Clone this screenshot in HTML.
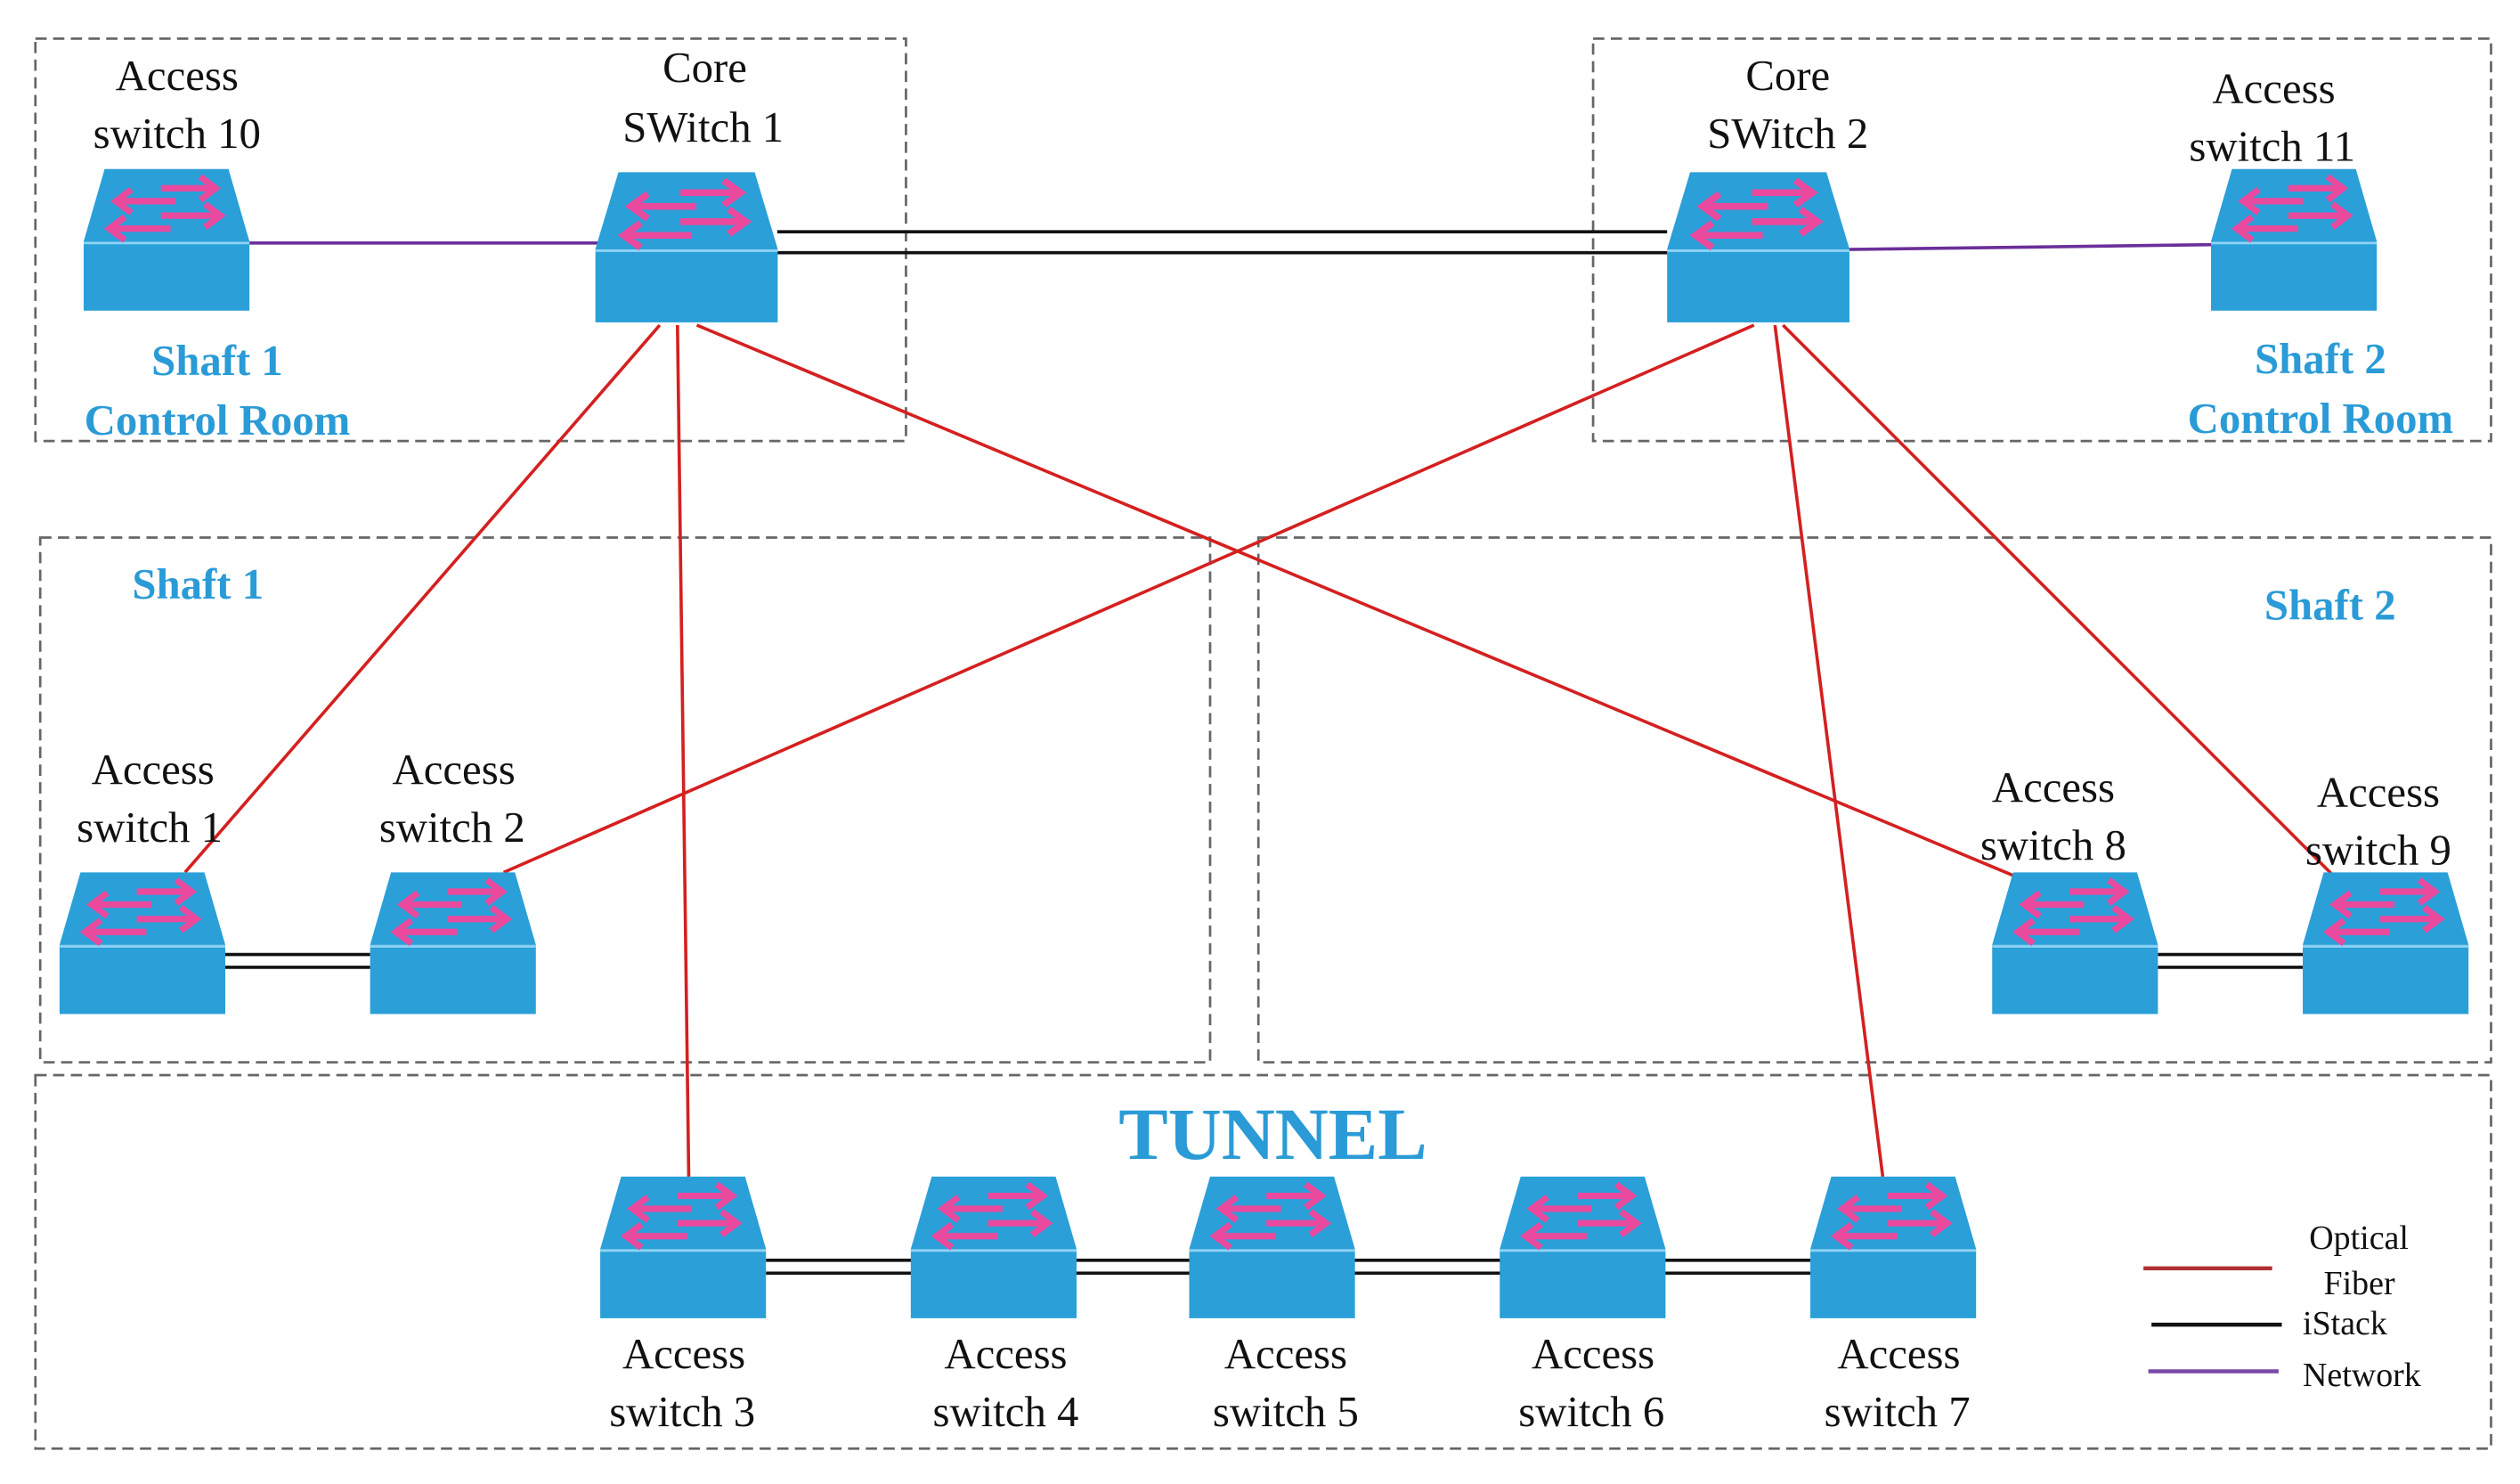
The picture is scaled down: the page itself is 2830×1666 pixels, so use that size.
<!DOCTYPE html>
<html><head><meta charset="utf-8"><style>
html,body{margin:0;padding:0;background:#fff}
svg{display:block}
text{font-family:"Liberation Serif",serif}
.lb{font-size:27px;fill:#111;text-anchor:middle}
.bl{font-size:27px;fill:#2a9bd6;font-weight:bold;text-anchor:middle}
</style></head><body>
<svg width="2830" height="1666" viewBox="0 0 1566 922" preserveAspectRatio="none" xmlns="http://www.w3.org/2000/svg">
<defs>
<g id="sw">
<polygon points="13,0 90,0 103,45 0,45" fill="#2a9fd8"/>
<rect x="0" y="45" width="103" height="43" fill="#2a9fd8"/>
<line x1="0" y1="46" x2="103" y2="46" stroke="#8fd3f3" stroke-width="1.5"/>
<g stroke="#ea4a9e" stroke-width="4" fill="none" stroke-linecap="square">
<path d="M50,12 H80 M74,6 L82,12 L74,18"/>
<path d="M50,29 H83 M77,23 L85,29 L77,35"/>
<path d="M55,20 H22 M28,14 L20,20 L28,26"/>
<path d="M52,37 H18 M24,31 L16,37 L24,43"/>
</g>
</g>
</defs>
<g fill="none" stroke="#666" stroke-width="1.5" stroke-dasharray="7,4">
<rect x="22" y="24" width="541" height="250"/>
<rect x="990" y="24" width="558" height="250"/>
<rect x="25" y="334" width="727" height="326"/>
<rect x="782" y="334" width="766" height="326"/>
<rect x="22" y="668" width="1526" height="232"/>
</g>
<g stroke="#6b2f9a" stroke-width="2">
<line x1="155" y1="151" x2="372" y2="151"/>
<line x1="1148" y1="155" x2="1374" y2="152"/>
</g>
<g stroke="#111" stroke-width="2">
<line x1="483" y1="144" x2="1036" y2="144"/>
<line x1="483" y1="157" x2="1036" y2="157"/>
<line x1="140" y1="593" x2="230" y2="593"/><line x1="140" y1="601" x2="230" y2="601"/>
<line x1="1341" y1="593" x2="1431" y2="593"/><line x1="1341" y1="601" x2="1431" y2="601"/>
<line x1="476" y1="783" x2="1125" y2="783"/><line x1="476" y1="791" x2="1125" y2="791"/>
</g>
<g stroke="#d42020" stroke-width="2">
<line x1="410" y1="202" x2="115" y2="542"/>
<line x1="421" y1="202" x2="428" y2="731"/>
<line x1="433" y1="202" x2="1256" y2="546"/>
<line x1="1090" y1="202" x2="313" y2="542"/>
<line x1="1103" y1="202" x2="1170" y2="731"/>
<line x1="1108" y1="202" x2="1450" y2="544"/>
</g>
<use href="#sw" transform="translate(52,105)"/>
<use href="#sw" transform="translate(370,107) scale(1.1,1.06)"/>
<use href="#sw" transform="translate(1036,107) scale(1.1,1.06)"/>
<use href="#sw" transform="translate(1374,105)"/>
<use href="#sw" transform="translate(37,542)"/>
<use href="#sw" transform="translate(230,542)"/>
<use href="#sw" transform="translate(1238,542)"/>
<use href="#sw" transform="translate(1431,542)"/>
<use href="#sw" transform="translate(373,731)"/>
<use href="#sw" transform="translate(566,731)"/>
<use href="#sw" transform="translate(739,731)"/>
<use href="#sw" transform="translate(932,731)"/>
<use href="#sw" transform="translate(1125,731)"/>
<g class="lb">
<text x="110" y="56">Access</text><text x="110" y="92">switch 10</text>
<text x="438" y="51">Core</text><text x="437" y="88">SWitch 1</text>
<text x="1111" y="56">Core</text><text x="1111" y="92">SWitch 2</text>
<text x="1413" y="64">Access</text><text x="1412" y="100">switch 11</text>
<text x="95" y="487">Access</text><text x="93" y="523">switch 1</text>
<text x="282" y="487">Access</text><text x="281" y="523">switch 2</text>
<text x="1276" y="498">Access</text><text x="1276" y="534">switch 8</text>
<text x="1478" y="501">Access</text><text x="1478" y="537">switch 9</text>
<text x="425" y="850">Access</text><text x="424" y="886">switch 3</text>
<text x="625" y="850">Access</text><text x="625" y="886">switch 4</text>
<text x="799" y="850">Access</text><text x="799" y="886">switch 5</text>
<text x="990" y="850">Access</text><text x="989" y="886">switch 6</text>
<text x="1180" y="850">Access</text><text x="1179" y="886">switch 7</text>
</g>
<g class="bl">
<text x="135" y="233">Shaft 1</text><text x="135" y="270">Control Room</text>
<text x="1442" y="232">Shaft 2</text><text x="1442" y="269">Control Room</text>
<text x="123" y="372">Shaft 1</text>
<text x="1448" y="385">Shaft 2</text>
<text x="791" y="720" style="font-size:46px">TUNNEL</text>
</g>
<line x1="1332" y1="788" x2="1412" y2="788" stroke="#b03030" stroke-width="2.5"/>
<line x1="1337" y1="823" x2="1418" y2="823" stroke="#111" stroke-width="2.5"/>
<line x1="1335" y1="852" x2="1416" y2="852" stroke="#7a4aa8" stroke-width="2.5"/>
<g style="font-size:21px;fill:#111">
<text x="1435" y="776">Optical</text>
<text x="1444" y="804">Fiber</text>
<text x="1431" y="829">iStack</text>
<text x="1431" y="861">Network</text>
</g>
</svg>
</body></html>
